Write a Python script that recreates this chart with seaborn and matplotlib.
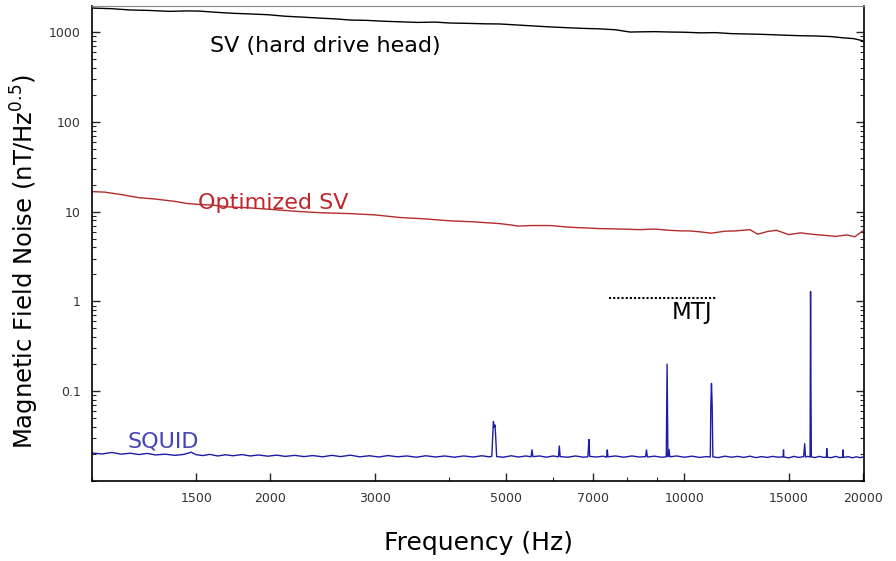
import numpy as np
import pandas as pd
import matplotlib
matplotlib.use("Agg")
import matplotlib.pyplot as plt
import matplotlib.ticker as mticker
import seaborn as sns

# SV (hard drive head) noise, nT/Hz^0.5
sv_freq = [1000, 1080, 1160, 1250, 1350, 1450, 1520, 1620, 1720, 1850, 1980, 2120, 2250,
           2420, 2580, 2730, 2900, 3100, 3310, 3550, 3800, 4020, 4300, 4600, 4880, 5200,
           5550, 5940, 6300, 6700, 7200, 7650, 8100, 8420, 8900, 9500, 10000, 10640,
           11300, 12000, 12900, 13700, 14600, 15700, 16600, 17680, 18600, 19300, 20000]
sv_val = [1850, 1820, 1760, 1740, 1700, 1720, 1710, 1660, 1620, 1590, 1560, 1500, 1470,
          1430, 1400, 1360, 1350, 1320, 1300, 1280, 1290, 1260, 1250, 1235, 1230, 1200,
          1170, 1140, 1120, 1100, 1085, 1060, 1000, 1005, 1010, 1000, 995, 980, 985,
          960, 950, 940, 925, 910, 905, 890, 860, 845, 800]

# Optimized SV
opt_freq = [1000, 1050, 1120, 1200, 1280, 1380, 1450, 1520, 1600, 1700, 1850, 2000,
            2250, 2450, 2730, 3000, 3310, 3650, 4020, 4400, 4880, 5100, 5250, 5500,
            5940, 6400, 7210, 7800, 8420, 8900, 9400, 9900, 10200, 10640, 11100, 11700,
            12200, 12900, 13300, 13800, 14300, 15000, 15700, 16400, 17200, 18000, 18800,
            19400, 20000]
opt_val = [16.7, 16.5, 15.5, 14.3, 13.8, 13.0, 12.3, 12.0, 11.8, 11.3, 11.0, 10.6,
           10.0, 9.7, 9.5, 9.2, 8.6, 8.3, 7.9, 7.7, 7.35, 7.1, 6.9, 7.0,
           7.0, 6.7, 6.47, 6.4, 6.3, 6.4, 6.2, 6.1, 6.1, 5.95, 5.75, 6.05,
           6.1, 6.3, 5.6, 6.0, 6.2, 5.55, 5.8, 5.6, 5.45, 5.3, 5.5, 5.25, 6.1]

# SQUID
squid_freq = [1000, 1040, 1080, 1120, 1160, 1200, 1240, 1280, 1330, 1380, 1430, 1470, 1500,
              1540, 1580, 1630, 1680, 1730, 1790, 1850, 1910, 1980, 2050, 2120, 2200, 2280,
              2360, 2450, 2540, 2630, 2730, 2830, 2940, 3050, 3160, 3280, 3400, 3530, 3660,
              3800, 3940, 4090, 4240, 4400, 4550, 4680, 4730, 4745, 4760, 4775, 4790, 4805,
              4820, 4950, 5100, 5250, 5400, 5510, 5530, 5550, 5700, 5850, 6000, 6130, 6150,
              6170, 6350, 6550, 6750, 6870, 6885, 6900, 6920, 7100, 7300, 7390, 7410, 7430,
              7650, 7900, 8150, 8400, 8600, 8630, 8660, 8900, 9150, 9320, 9350, 9380, 9420,
              9450, 9700, 10000, 10300, 10600, 10900, 11060, 11080, 11110, 11140, 11170,
              11400, 11700, 12000, 12300, 12600, 12900, 13200, 13500, 13800, 14100, 14400,
              14680, 14700, 14720, 15000, 15300, 15600, 15900, 15960, 16010, 16150, 16300,
              16330, 16350, 16380, 16600, 16900, 17200, 17370, 17390, 17420, 17700, 18000,
              18300, 18510, 18530, 18560, 18900, 19200, 19500, 19800, 20000]
squid_val = [0.0205, 0.0200, 0.0208, 0.0199, 0.0204, 0.0197, 0.0203, 0.0195, 0.0199, 0.0193,
             0.0198, 0.0209, 0.0196, 0.0192, 0.0198, 0.0190, 0.0196, 0.0191, 0.0197, 0.0190,
             0.0195, 0.0189, 0.0194, 0.0188, 0.0193, 0.0187, 0.0192, 0.0186, 0.0193, 0.0187,
             0.0194, 0.0186, 0.0191, 0.0185, 0.0192, 0.0186, 0.0190, 0.0184, 0.0191, 0.0185,
             0.0190, 0.0184, 0.0190, 0.0185, 0.0191, 0.0186, 0.0188, 0.029, 0.046, 0.040,
             0.042, 0.029, 0.0187, 0.0184, 0.0191, 0.0185, 0.0190, 0.0186, 0.0222, 0.0187,
             0.0190, 0.0184, 0.0190, 0.0186, 0.0245, 0.0187, 0.0184, 0.0190, 0.0184, 0.0186,
             0.0225, 0.029, 0.0188, 0.0185, 0.0189, 0.0184, 0.0222, 0.0186, 0.0190, 0.0184,
             0.0190, 0.0185, 0.0187, 0.0222, 0.0185, 0.0189, 0.0184, 0.0186, 0.200, 0.0187,
             0.0225, 0.0186, 0.0190, 0.0184, 0.0189, 0.0183, 0.0187, 0.0185, 0.065, 0.122,
             0.070, 0.0186, 0.0182, 0.0189, 0.0184, 0.0188, 0.0183, 0.0189, 0.0182, 0.0187,
             0.0183, 0.0188, 0.0184, 0.0186, 0.0222, 0.0185, 0.0181, 0.0188, 0.0183, 0.0187,
             0.026, 0.0185, 0.0188, 0.0185, 1.29, 0.15, 0.0186, 0.0182, 0.0188, 0.0183,
             0.0185, 0.023, 0.0184, 0.0182, 0.0188, 0.0182, 0.0185, 0.0222, 0.0183, 0.0187,
             0.0181, 0.0186, 0.0182, 0.0185]

# MTJ level (dotted)
mtj_freq = [7450, 11320]
mtj_val = [1.08, 1.08]

x_ticks = [1500, 2000, 3000, 5000, 7000, 10000, 15000, 20000]
y_ticks = [0.1, 1, 10, 100, 1000]
y_tick_labels = ["0.1", "1", "10", "100", "1000"]

sns.set_style("ticks")
plt.rcParams["font.family"] = ["DejaVu Sans"]
plt.rcParams["text.color"] = "black"
plt.rcParams["axes.labelcolor"] = "black"

fig = plt.figure(figsize=(8.96, 5.61), dpi=100)
ax = fig.add_axes([92 / 896, 1 - 481 / 561, 772 / 896, 475 / 561])

sns.lineplot(x=sv_freq, y=sv_val, ax=ax, color="black", lw=1.0, estimator=None)
sns.lineplot(x=opt_freq, y=opt_val, ax=ax, color="#b52b2b", lw=1.0, estimator=None)
sns.lineplot(x=squid_freq, y=squid_val, ax=ax, color="#1c1ca6", lw=1.0, estimator=None)
sns.lineplot(x=mtj_freq, y=mtj_val, ax=ax, color="black", lw=1.5, ls=(0, (1, 1)),
             estimator=None)

ax.set_xscale("log")
ax.set_yscale("log")
ax.set_xlim(1000, 20100)
ax.set_ylim(0.01, 1950)

ax.xaxis.set_major_locator(mticker.FixedLocator(x_ticks))
ax.xaxis.set_major_formatter(mticker.FixedFormatter([str(t) for t in x_ticks]))
ax.xaxis.set_minor_locator(mticker.LogLocator(base=10, subs=np.arange(1, 10)))
ax.xaxis.set_minor_formatter(mticker.NullFormatter())
ax.yaxis.set_major_locator(mticker.FixedLocator(y_ticks))
ax.yaxis.set_major_formatter(mticker.FixedFormatter(y_tick_labels))
ax.yaxis.set_minor_locator(mticker.LogLocator(base=10, subs=np.arange(1, 10)))
ax.yaxis.set_minor_formatter(mticker.NullFormatter())

ax.tick_params(which="both", direction="in", right=True, top=False,
               labelsize=9, labelcolor="#333333", pad=8)
ax.tick_params(which="major", length=6, width=1)
ax.tick_params(which="minor", length=3, width=0.8)

for side in ["left", "bottom", "right"]:
    ax.spines[side].set_color("black")
    ax.spines[side].set_linewidth(1.2)
ax.spines["top"].set_color("#888888")

ax.set_xlabel("Frequency (Hz)", fontsize=18, color="black")
ax.xaxis.set_label_coords(0.5, -0.105)
ax.set_ylabel("Magnetic Field Noise (nT/Hz$^{0.5}$)", fontsize=17.5, color="black")
ax.yaxis.set_label_coords(-0.066, 0.461)

ax.text(1583, 700, "SV (hard drive head)", fontsize=16, color="black", va="center")
ax.text(1511, 12.6, "Optimized SV", fontsize=16, color="#c0272d", va="center")
ax.text(1150, 0.0277, "SQUID", fontsize=16, color="#4545b8", va="center")
ax.text(10300, 0.75, "MTJ", fontsize=16.5, color="black", va="center", ha="center")

fig.savefig("out.png", dpi=100)
